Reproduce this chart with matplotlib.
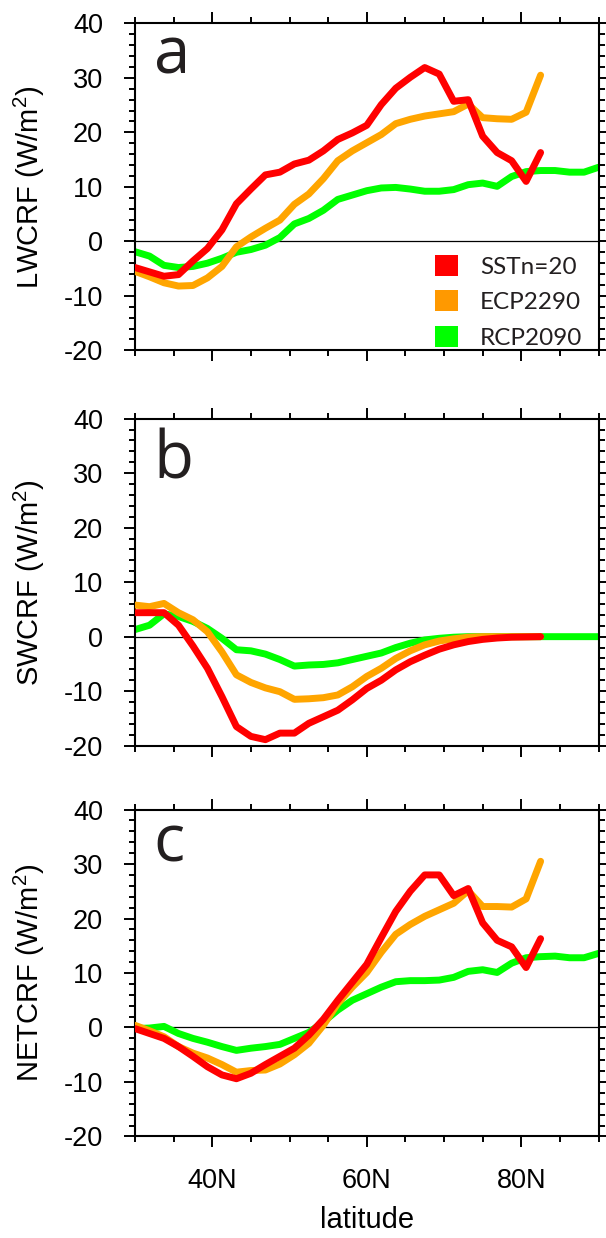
import matplotlib
matplotlib.use("Agg")
import matplotlib.pyplot as plt
from matplotlib.patches import Patch
from matplotlib.ticker import MultipleLocator, FixedLocator

plt.rcParams["font.family"] = ["Liberation Sans", "DejaVu Sans"]
plt.rcParams["mathtext.fontset"] = "custom"
plt.rcParams["mathtext.rm"] = "Liberation Sans"
plt.rcParams["axes.unicode_minus"] = False

# latitude grid (deg N)
lat = [30.0, 31.875, 33.75, 35.625, 37.5, 39.375, 41.25, 43.125, 45.0,
       46.875, 48.75, 50.625, 52.5, 54.375, 56.25, 58.125, 60.0, 61.875,
       63.75, 65.625, 67.5, 69.375, 71.25, 73.125, 75.0, 76.875, 78.75,
       80.625, 82.5, 84.375, 86.25, 88.125, 90.0]

series_names = ["SSTn=20", "ECP2290", "RCP2090"]

lw_sstn = [-4.8, -5.6, -6.4, -6.1, -3.6, -1.3, 2.1, 6.9, 9.6, 12.2, 12.7, 14.2,
           14.9, 16.6, 18.7, 19.9, 21.3, 25.1, 28.1, 30.1, 31.9, 30.7, 25.7,
           26.0, 19.3, 16.3, 14.8, 11.0, 16.3]
lw_ecp = [-5.5, -6.5, -7.6, -8.2, -8.1, -6.7, -4.6, -1.0, 0.8, 2.4, 3.9, 6.8,
          8.7, 11.5, 14.8, 16.6, 18.1, 19.6, 21.6, 22.4, 23.0, 23.4, 23.8,
          25.2, 22.7, 22.5, 22.4, 23.7, 30.5]
lw_rcp = [-1.9, -2.7, -4.4, -4.8, -4.6, -4.0, -3.1, -2.0, -1.5, -0.7, 0.7, 3.2,
          4.2, 5.7, 7.7, 8.5, 9.3, 9.8, 9.9, 9.6, 9.2, 9.2, 9.5, 10.4, 10.7,
          10.1, 11.9, 12.8, 13.0, 13.0, 12.7, 12.7, 13.6]

sw_sstn = [4.4, 4.4, 4.4, 2.1, -1.7, -5.8, -11.0, -16.5, -18.3, -18.9, -17.7,
           -17.7, -15.9, -14.7, -13.5, -11.6, -9.5, -8.0, -6.1, -4.6, -3.4,
           -2.3, -1.5, -0.9, -0.5, -0.25, -0.1, -0.05, 0.0]
sw_ecp = [5.8, 5.5, 6.1, 4.4, 3.1, 0.9, -2.8, -7.0, -8.4, -9.4, -10.1, -11.5,
          -11.4, -11.2, -10.7, -9.2, -7.3, -5.8, -4.0, -2.6, -1.5, -0.8, -0.4,
          -0.1, 0.0, 0.0, 0.0, 0.0, 0.0]
sw_rcp = [1.3, 2.1, 4.2, 3.7, 2.8, 1.5, -0.3, -2.4, -2.6, -3.2, -4.2, -5.4,
          -5.2, -5.1, -4.8, -4.2, -3.6, -3.0, -2.0, -1.2, -0.6, -0.3, -0.1,
          0.0, 0.0, 0.0, 0.0, 0.0, 0.0, 0.0, 0.0, 0.0, 0.0]

net_sstn = [-0.2, -1.1, -2.0, -3.5, -5.3, -7.2, -8.7, -9.4, -8.4, -6.8, -5.3,
            -3.8, -1.4, 1.5, 5.0, 8.3, 11.6, 16.5, 21.3, 25.0, 28.0, 28.0,
            24.2, 25.5, 19.2, 16.0, 14.8, 11.0, 16.3]
net_ecp = [0.4, -0.6, -1.7, -3.5, -4.7, -5.6, -6.8, -8.2, -7.9, -7.8, -6.7,
           -5.0, -2.9, 0.4, 4.4, 7.4, 10.1, 13.8, 17.1, 18.9, 20.4, 21.6, 22.8,
           25.1, 22.2, 22.2, 22.1, 23.6, 30.5]
net_rcp = [-0.2, -0.1, 0.2, -1.1, -2.0, -2.7, -3.5, -4.2, -3.8, -3.5, -3.1,
           -2.0, -0.9, 1.0, 3.2, 5.0, 6.2, 7.4, 8.4, 8.6, 8.6, 8.7, 9.2, 10.3,
           10.6, 10.1, 11.8, 12.8, 13.0, 13.1, 12.8, 12.8, 13.6]

ylabels = ["LWCRF (W/m$^2$)", "SWCRF (W/m$^2$)", "NETCRF (W/m$^2$)"]
letters = ["a", "b", "c"]
letter_y = [0.847, 0.818, 0.840]
panels = [(lw_sstn, lw_ecp, lw_rcp), (sw_sstn, sw_ecp, sw_rcp),
          (net_sstn, net_ecp, net_rcp)]

line_colors = ["#ff0000", "#ffa500", "#00ff00"]
legend_colors = ["#ff0000", "#ff9900", "#00ff00"]
text_dark = "#231f20"

fig = plt.figure(figsize=(6.06, 12.38), dpi=100)
bottoms = [0.7170, 0.3977, 0.0820]

for k, (vals, bot) in enumerate(zip(panels, bottoms)):
    ax = fig.add_axes([0.2228, bot, 0.7649, 0.2641])
    ax.axhline(0, color="black", lw=0.9, zorder=1)
    # green under orange under red
    for j in [2, 1, 0]:
        y = vals[j]
        ax.plot(lat[:len(y)], y, color=line_colors[j], lw=5.0,
                solid_capstyle="round", zorder=2 + (2 - j))

    ax.set_xlim(30, 90)
    ax.set_ylim(-20, 40)
    ax.xaxis.set_major_locator(FixedLocator([40, 60, 80]))
    ax.xaxis.set_minor_locator(FixedLocator([30, 35, 45, 50, 55, 65, 70, 75, 85, 90]))
    ax.yaxis.set_major_locator(MultipleLocator(10))
    ax.yaxis.set_minor_locator(MultipleLocator(2))
    ax.tick_params(which="both", direction="out", top=True, right=True,
                   width=1.4, labelsize=19.5, pad=15)
    ax.tick_params(which="major", length=8)
    ax.tick_params(which="minor", length=4)
    for s in ax.spines.values():
        s.set_linewidth(1.5)

    if k == 2:
        ax.set_xticklabels(["40N", "60N", "80N"])
        ax.set_xlabel("latitude", fontsize=21, labelpad=8)
    else:
        ax.set_xticklabels([])

    ax.set_ylabel(ylabels[k], fontsize=21)
    ax.yaxis.set_label_coords(-0.19, 0.5)

    ax.text(0.04, letter_y[k], letters[k], transform=ax.transAxes,
            fontsize=47, family="Open Sans", color=text_dark, va="baseline")

    if k == 0:
        handles = [Patch(facecolor=c, edgecolor="none") for c in legend_colors]
        ax.legend(handles, series_names, loc="upper left",
                  bbox_to_anchor=(0.647, 0.292), frameon=False,
                  prop={"family": "Lato", "size": 17.5},
                  labelcolor=text_dark, handlelength=0.95, handleheight=0.95,
                  handletextpad=0.9, labelspacing=0.52, borderpad=0,
                  borderaxespad=0)

fig.savefig("out.png", dpi=100)
